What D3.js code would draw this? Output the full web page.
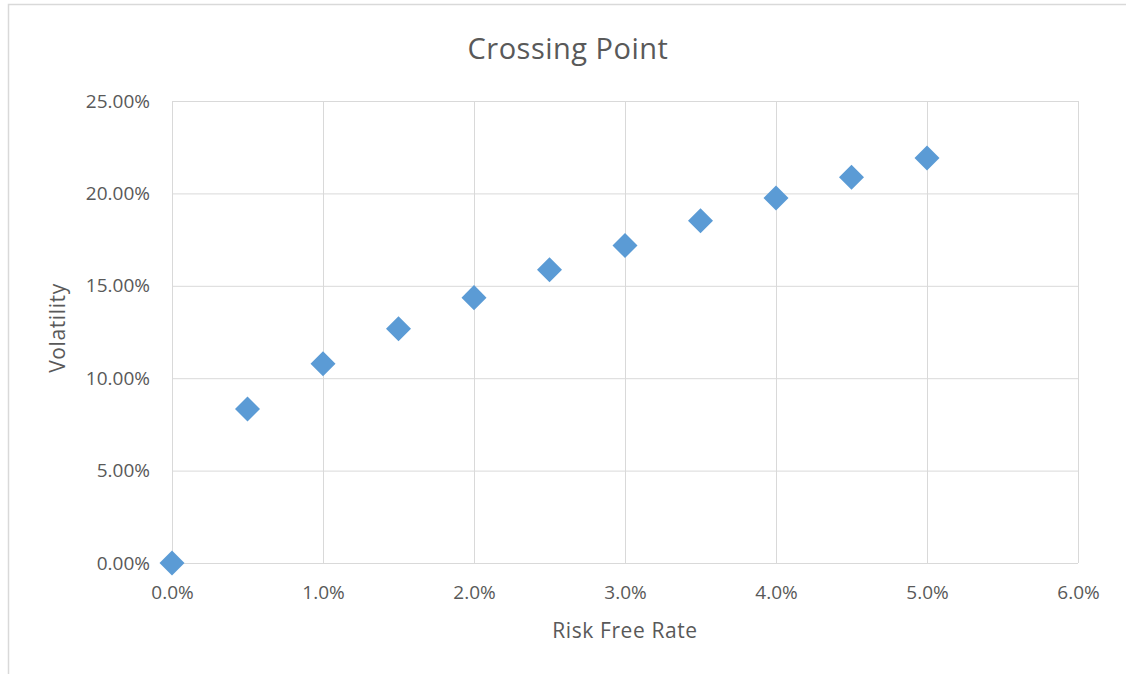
<!DOCTYPE html>
<html>
<head>
<meta charset="utf-8">
<script src="https://cdn.jsdelivr.net/npm/d3@7"></script>
<style>
  body { margin: 0; background: #fff; }
  text { font-family: "Open Sans", "Liberation Sans", sans-serif; fill: #595959; }
</style>
</head>
<body>
<div id="chart"></div>
<script>
const rates = [0, 0.005, 0.01, 0.015, 0.02, 0.025, 0.03, 0.035, 0.04, 0.045, 0.05];
const vols = [0, 0.0833, 0.1078, 0.1268, 0.1436, 0.1587, 0.1718, 0.1852, 0.1975, 0.2087, 0.2192];
const xTicks = [0, 0.01, 0.02, 0.03, 0.04, 0.05, 0.06];
const yTicks = [0, 0.05, 0.10, 0.15, 0.20, 0.25];

const svgWidth = 1126, svgHeight = 674,
    margin = { top: 101, right: 48, bottom: 111, left: 172 },
    width = svgWidth - margin.left - margin.right,
    height = svgHeight - margin.top - margin.bottom;

let svgRoot = d3.select("#chart").append("svg")
    .attr("width", svgWidth)
    .attr("height", svgHeight);

// chart border
svgRoot.append("rect")
    .attr("x", 8.5).attr("y", 4.5)
    .attr("width", 1140).attr("height", 700)
    .attr("fill", "none")
    .attr("stroke", "#d9d9d9")
    .attr("stroke-width", 1.5);

let svg = svgRoot.append("g")
    .attr("transform", "translate(" + margin.left + "," + margin.top + ")");

let xScale = d3.scaleLinear().domain([0, 0.06]).range([0, width]);
let yScale = d3.scaleLinear().domain([0, 0.25]).range([height, 0]);

// gridlines
svg.append("g")
    .attr("transform", `translate(0, ${height})`)
    .call(d3.axisBottom(xScale).tickValues(xTicks).tickSize(-height).tickFormat(""))
    .call(g => g.select(".domain").remove())
    .call(g => g.selectAll("line").attr("stroke", "#d9d9d9"));
svg.append("g")
    .call(d3.axisLeft(yScale).tickValues(yTicks).tickSize(-width).tickFormat(""))
    .call(g => g.select(".domain").remove())
    .call(g => g.selectAll("line").attr("stroke", "#d9d9d9"));

// tick labels
let xAxis = svg.append("g")
    .attr("transform", `translate(0, ${height})`)
    .call(d3.axisBottom(xScale).tickValues(xTicks).tickSize(0).tickPadding(23)
        .tickFormat(d3.format(".1%")));
xAxis.select(".domain").remove();
xAxis.selectAll("text").style("font-size", "19px").attr("fill", "#595959");

let yAxis = svg.append("g")
    .call(d3.axisLeft(yScale).tickValues(yTicks).tickSize(0).tickPadding(22)
        .tickFormat(d3.format(".2%")));
yAxis.select(".domain").remove();
yAxis.selectAll("text").style("font-size", "19px").attr("fill", "#595959");

// axis titles
svgRoot.append("text")
    .attr("x", 625).attr("y", 638)
    .attr("text-anchor", "middle")
    .style("font-size", "21px")
    .style("letter-spacing", "0.6px")
    .text("Risk Free Rate");
svgRoot.append("text")
    .attr("transform", "translate(65, 328) rotate(-90)")
    .attr("text-anchor", "middle")
    .style("font-size", "21px")
    .style("letter-spacing", "0.6px")
    .text("Volatility");

// title
svgRoot.append("text")
    .attr("x", 568).attr("y", 59)
    .attr("text-anchor", "middle")
    .style("font-size", "29px")
    .style("letter-spacing", "0.5px")
    .text("Crossing Point");

// points
svg.selectAll("path.pt")
    .data(rates.map((r, i) => ({ r: r, v: vols[i] })))
    .join("path")
    .attr("class", "pt")
    .attr("d", d3.symbol().type(d3.symbolDiamond2).size(400))
    .attr("transform", d => `translate(${xScale(d.r)}, ${yScale(d.v)})`)
    .attr("fill", "#5b9bd5");
</script>
</body>
</html>
